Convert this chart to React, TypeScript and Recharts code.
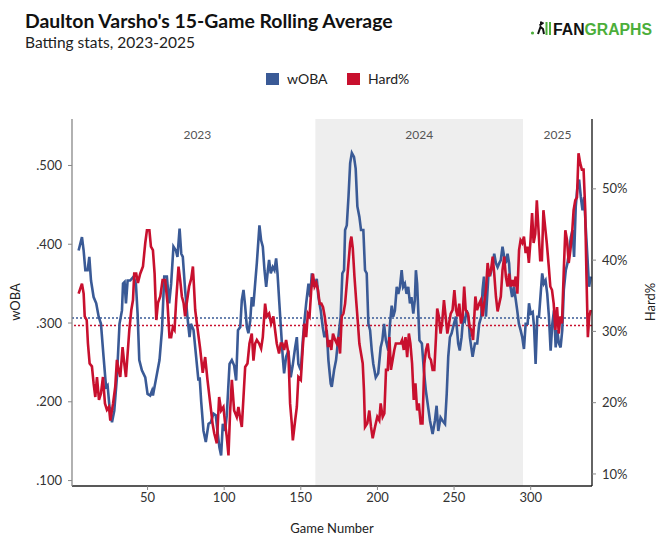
import React from 'react';
import {
  LineChart,
  Line,
  XAxis,
  YAxis,
  ReferenceArea,
  ReferenceLine,
} from 'recharts';

const BLUE = '#3a5a96';
const RED = '#c8102e';

const wobaGame = [
  5, 7.2, 8.3, 9.4, 10.9, 12, 13.1, 14.8, 16.5, 18.1, 19.6, 21.3, 22.9, 23.9, 25.2, 26.8, 28.3, 30, 31.7, 33.3,
  34, 35, 35.9, 37, 38.7, 40.9, 42.4, 43.5, 44.6, 46.3, 48.5, 50, 51.7, 52.9, 53.5, 55.7, 57.8, 59.4, 60.9, 62.6,
  64.1, 65.4, 66.9, 68.5, 69.5, 70.9, 72, 73, 74.5, 76, 77.4, 78.3, 80, 81.7, 83.2, 84, 85, 86.5, 88, 89.8,
  91.3, 93, 94.5, 95.6, 96.9, 98, 99.1, 100.6, 101.7, 103.5, 105, 106.5, 107.8, 109, 110.5, 111.5, 112.6, 113.7, 114.8, 115.8,
  117, 118, 119, 120.2, 121.3, 123, 124.1, 125.2, 126.3, 127.4, 128.5, 129.3, 130.4, 131.7, 132.8, 133.9, 134.8, 136, 137.1, 138.2,
  139.1, 140.4, 141.9, 143.4, 144.7, 146.3, 147.4, 148.4, 150, 151.3, 152.2, 153.5, 155, 156.1, 157.2, 158.6, 160.4, 161.5, 163, 164.3,
  165.4, 166.9, 168, 169.5, 170.2, 171.7, 173, 174.5, 176, 177.1, 178.2, 178.9, 180, 181.1, 182.2, 183.3, 184.7, 185.8, 186.9, 188.2,
  189.3, 190.8, 191.9, 193, 194.1, 195.2, 196.3, 197.3, 198.9, 200.5, 202.1, 203.2, 204.3, 205.5, 207.1, 208.2, 209.3, 210.3, 211.4, 212.6,
  213.6, 214.7, 215.8, 216.8, 217.9, 219, 220.1, 221.2, 222.2, 223.4, 224.4, 225.1, 225.9, 226.8, 227.4, 229, 230.3, 231.6, 233.1, 234.3,
  236, 237.5, 238.6, 239.7, 241.2, 242.5, 244.1, 245.2, 246.2, 247.3, 248.4, 249.9, 251.2, 252.7, 253.7, 254.9, 256, 257.1, 258.2, 259.3,
  260.3, 262.1, 263.6, 265.1, 266.4, 267.7, 268.6, 269.5, 270.8, 271.7, 272.6, 273.9, 275.4, 276.2, 277.3, 278.4, 279.5, 280.5, 281.6, 282.7,
  283.8, 284.9, 285.9, 286.8, 287.9, 289, 290, 291.2, 292.3, 293.4, 294.5, 295.6, 296.7, 298, 298.9, 300, 301.3, 302.2, 303.2, 304.3,
  305.4, 306.5, 307.5, 308.6, 309.7, 310.8, 311.9, 313, 314.1, 315.2, 316.3, 317.3, 318.4, 319.5, 320.6, 321.6, 322.9, 324, 325.1, 326.2,
  327.3, 328.3, 329.4, 330.5, 331.6, 332.7, 333.8, 334.9, 335.9, 337, 338.1, 339.2,
];

const wobaValue = [
  0.392, 0.409, 0.392, 0.367, 0.367, 0.384, 0.354, 0.333, 0.325, 0.308, 0.299, 0.257, 0.219, 0.221, 0.193, 0.174, 0.189, 0.231, 0.299, 0.316,
  0.35, 0.352, 0.325, 0.354, 0.354, 0.359, 0.35, 0.312, 0.253, 0.24, 0.231, 0.21, 0.208, 0.214, 0.208, 0.231, 0.253, 0.291, 0.359, 0.359,
  0.325, 0.35, 0.397, 0.392, 0.384, 0.42, 0.388, 0.384, 0.342, 0.308, 0.282, 0.299, 0.291, 0.257, 0.227, 0.231, 0.2, 0.163, 0.149, 0.172,
  0.174, 0.185, 0.183, 0.163, 0.142, 0.132, 0.172, 0.163, 0.183, 0.248, 0.253, 0.246, 0.227, 0.291, 0.295, 0.329, 0.342, 0.321, 0.295, 0.287,
  0.303, 0.333, 0.321, 0.35, 0.376, 0.424, 0.405, 0.397, 0.367, 0.346, 0.367, 0.38, 0.363, 0.371, 0.367, 0.382, 0.363, 0.325, 0.291, 0.257,
  0.236, 0.257, 0.265, 0.231, 0.246, 0.269, 0.282, 0.248, 0.24, 0.278, 0.299, 0.325, 0.35, 0.333, 0.363, 0.346, 0.356, 0.333, 0.316, 0.295,
  0.282, 0.291, 0.253, 0.223, 0.219, 0.24, 0.253, 0.282, 0.308, 0.363, 0.367, 0.418, 0.424, 0.46, 0.503, 0.516, 0.511, 0.496, 0.448, 0.435,
  0.418, 0.418, 0.367, 0.363, 0.299, 0.291, 0.265, 0.248, 0.231, 0.236, 0.269, 0.278, 0.299, 0.278, 0.265, 0.299, 0.322, 0.308, 0.316, 0.346,
  0.337, 0.346, 0.367, 0.346, 0.35, 0.337, 0.346, 0.325, 0.333, 0.312, 0.329, 0.367, 0.35, 0.308, 0.278, 0.274, 0.24, 0.214, 0.193, 0.176,
  0.159, 0.176, 0.195, 0.163, 0.18, 0.176, 0.172, 0.21, 0.257, 0.282, 0.287, 0.299, 0.308, 0.274, 0.265, 0.282, 0.308, 0.303, 0.316, 0.308,
  0.282, 0.257, 0.274, 0.274, 0.299, 0.308, 0.342, 0.359, 0.308, 0.337, 0.367, 0.363, 0.376, 0.388, 0.376, 0.371, 0.376, 0.38, 0.397, 0.384,
  0.376, 0.388, 0.376, 0.346, 0.333, 0.346, 0.333, 0.316, 0.299, 0.291, 0.282, 0.267, 0.299, 0.299, 0.325, 0.312, 0.314, 0.295, 0.248, 0.308,
  0.308, 0.337, 0.363, 0.35, 0.354, 0.337, 0.308, 0.265, 0.299, 0.316, 0.269, 0.291, 0.274, 0.269, 0.291, 0.342, 0.367, 0.376, 0.392, 0.409,
  0.418, 0.384, 0.448, 0.473, 0.482, 0.46, 0.443, 0.46, 0.422, 0.384, 0.346, 0.359,
];

const hardGame = [
  5, 7.2, 8.3, 9, 10.3, 11.1, 12.2, 13.7, 14.8, 15.9, 17, 18.3, 19.6, 20.9, 22.2, 23.5, 24.8, 25.7, 27.5, 28.9,
  30, 31.1, 32.2, 33.7, 34.8, 35.9, 37, 38.1, 39.4, 40.5, 41.3, 42.6, 43.7, 45.2, 47, 48.5, 49.6, 51.2, 52.2, 53.5,
  54.6, 55.7, 56.8, 58.3, 59.8, 61.5, 63, 64.3, 65.4, 66.5, 67.6, 68.7, 70.2, 71.3, 72.4, 73.5, 74.5, 75.6, 77.1, 78.5,
  79.6, 81.1, 82.2, 84.3, 86, 87.6, 89.1, 90.9, 92.4, 93.5, 95.2, 96.7, 98, 99.5, 100.6, 101.7, 102.8, 103.9, 105, 106.5,
  108.2, 109.3, 110.3, 111.5, 112.6, 113.7, 115.2, 116.5, 118, 119.1, 120.2, 121.3, 122.8, 124.1, 125.2, 126.7, 127.8, 129.3, 130.6, 132.1,
  133.2, 134.3, 135.8, 136.9, 138, 139.1, 140.4, 141.9, 143, 144.1, 144.8, 146.3, 147.4, 148.4, 150, 151.3, 152.4, 153.5, 154.6, 155.7,
  156.8, 157.9, 159, 160.1, 161.2, 162.3, 163.4, 164.5, 165.6, 166.7, 167.8, 168.8, 169.9, 171, 172.4, 173.5, 174.5, 175.6, 176.7, 177.8,
  178.9, 180, 181.1, 182.2, 183, 183.9, 185, 186.1, 187.1, 188.2, 189.3, 190.4, 191.2, 191.9, 193.4, 194.7, 195.8, 196.9, 198.4, 199.9,
  201.2, 202.1, 203.4, 204.5, 205.6, 206.7, 207.8, 208.8, 209.9, 211, 212, 213.6, 215.1, 216.1, 217.2, 218.3, 219.4, 220.5, 221.5, 222.6,
  223.7, 224.8, 225.9, 227, 228.2, 229.4, 230.6, 231.7, 232.8, 233.8, 234.9, 236, 237.1, 238.2, 239, 240.1, 241.2, 242.3, 243.4, 244.5,
  245.6, 246.7, 247.8, 249, 250.2, 251.3, 252.3, 253.4, 254.5, 255.6, 256.6, 257.6, 259.1, 260.2, 261.3, 262.4, 263.9, 265, 266.4, 267.5,
  268.6, 269.6, 270.8, 271.9, 273, 274.1, 275.2, 276.2, 277.3, 278.4, 279.5, 280.5, 281.6, 282.7, 283.8, 284.9, 285.9, 287, 288.1, 289.1,
  290.2, 291.3, 292.4, 293.4, 294.5, 295.6, 296.7, 297.8, 298.8, 299.9, 300.9, 301.9, 303, 304, 305.1, 306.2, 307.3, 308.3, 309.4, 310.5,
  311.8, 312.8, 313.9, 315, 316.1, 317.2, 318.3, 319.4, 320.4, 321.6, 322.6, 323.7, 324.8, 325.9, 327, 328, 329.1, 330.2, 331.2, 332.3,
  333.4, 334.5, 335.5, 336.4, 337.3, 338.2, 339.2,
];

const hardValue = [
  35.3, 36.7, 35.3, 32.1, 31.6, 28.3, 25.5, 25.1, 22.7, 20.8, 23.6, 20.4, 21.3, 23.6, 19.9, 19.0, 19.4, 17.5, 19.9, 22.2,
  26.0, 24.6, 23.6, 27.8, 25.5, 23.6, 26.9, 30.2, 33.0, 34.4, 38.1, 38.1, 36.8, 38.1, 39.1, 42.4, 44.2, 44.2, 41.9, 41.4,
  38.1, 31.6, 34.0, 34.9, 37.2, 37.2, 34.0, 29.2, 29.2, 30.6, 30.2, 34.4, 39.1, 37.2, 34.9, 34.0, 32.1, 34.0, 36.3, 37.4,
  39.1, 33.0, 31.1, 27.6, 24.2, 26.4, 23.2, 19.9, 17.1, 15.7, 14.3, 20.8, 18.9, 19.4, 17.1, 15.2, 12.6, 18.9, 23.2, 18.9,
  18.0, 19.4, 18.0, 16.6, 20.8, 25.0, 25.5, 28.3, 29.7, 25.9, 28.3, 28.8, 28.3, 27.6, 29.2, 33.9, 32.1, 32.5, 31.1, 32.1,
  30.2, 28.3, 26.9, 28.3, 28.3, 27.4, 28.8, 26.9, 19.9, 17.1, 14.7, 17.5, 19.4, 23.6, 23.2, 27.8, 31.1, 29.2, 32.5, 32.1,
  35.8, 38.1, 36.3, 36.8, 35.8, 33.9, 33.9, 33.4, 32.1, 30.2, 27.8, 28.8, 27.4, 29.7, 28.8, 28.3, 29.2, 26.9, 32.1, 32.5,
  33.9, 36.7, 39.6, 42.4, 43.3, 41.7, 37.7, 34.4, 31.6, 28.3, 26.9, 25.5, 21.8, 16.6, 17.1, 18.9, 16.6, 15.0, 16.6, 18.0,
  17.5, 19.9, 18.0, 18.5, 24.6, 24.6, 29.2, 24.6, 26.0, 27.4, 28.3, 28.3, 28.3, 28.8, 27.4, 29.2, 26.4, 29.7, 28.3, 25.5,
  20.4, 22.7, 18.9, 19.9, 17.1, 17.1, 25.5, 27.4, 28.3, 26.4, 26.0, 24.6, 24.6, 29.2, 33.2, 32.1, 29.7, 31.4, 34.4, 32.1,
  29.7, 31.1, 32.5, 33.0, 35.8, 33.0, 32.1, 33.9, 31.1, 32.1, 36.3, 33.0, 32.5, 30.6, 30.2, 28.8, 34.9, 33.0, 33.9, 34.4,
  32.1, 33.9, 35.8, 39.6, 37.7, 38.6, 40.5, 38.1, 34.9, 32.8, 33.9, 34.9, 38.6, 40.5, 37.7, 36.3, 38.1, 36.3, 37.2, 36.3,
  37.7, 35.3, 41.4, 42.8, 42.4, 43.3, 41.0, 41.9, 39.6, 42.8, 46.6, 42.4, 43.7, 48.4, 44.2, 40.0, 40.0, 47.0, 44.7, 42.4,
  39.1, 36.3, 35.8, 33.9, 30.2, 33.4, 29.7, 32.1, 31.1, 38.6, 44.2, 42.8, 39.6, 41.4, 43.7, 47.0, 48.4, 48.8, 55.0, 53.6,
  52.7, 52.7, 47.5, 37.7, 29.2, 32.1, 33.0,
];

const gameTicks = [50, 100, 150, 200, 250, 300];
const wobaTicks = [0.1, 0.2, 0.3, 0.4, 0.5];
const hardTicks = [10, 20, 30, 40, 50];
const seasons = [
  { label: '2023', start: 5.5, end: 159.5, shaded: false },
  { label: '2024', start: 159.5, end: 295, shaded: true },
  { label: '2025', start: 295, end: 340, shaded: false },
];
const wobaAverage = 0.3064;
const hardAverage = 30.84;

const wobaData = wobaGame.map((g, i) => ({ game: g, woba: wobaValue[i] }));
const hardData = hardGame.map((g, i) => ({ game: g, hard: hardValue[i] }));

const FONT = 'Lato, "Noto Sans", sans-serif';

export default function App() {
  return (
    <div
      style={{
        position: 'absolute',
        top: 0,
        left: 0,
        width: 665,
        height: 542,
        background: '#fff',
        fontFamily: FONT,
      }}
    >
      <LineChart
        width={665}
        height={542}
        margin={{ top: 119, right: 23, bottom: 26, left: 22 }}
        style={{ fontFamily: FONT }}
      >
        <XAxis
          type="number"
          dataKey="game"
          domain={[0.7, 340]}
          ticks={gameTicks}
          allowDataOverflow
          height={30}
          tickSize={4}
          tickMargin={3}
          tick={{ fill: '#333', fontSize: 13 }}
          axisLine={{ stroke: '#222', strokeWidth: 1.3 }}
          tickLine={{ stroke: '#888' }}
        />
        <YAxis
          yAxisId="w"
          orientation="left"
          width={50}
          domain={[0.0931, 0.559]}
          ticks={wobaTicks}
          allowDataOverflow
          tickFormatter={(v: number) => v.toFixed(3).replace(/^0/, '')}
          tickSize={4}
          tickMargin={6}
          tick={{ fill: '#333', fontSize: 13 }}
          axisLine={{ stroke: '#888', strokeWidth: 1.3 }}
          tickLine={{ stroke: '#888' }}
        />
        <YAxis
          yAxisId="h"
          orientation="right"
          width={50}
          domain={[8.31, 59.8]}
          ticks={hardTicks}
          allowDataOverflow
          tickFormatter={(v: number) => `${v}%`}
          tickSize={4}
          tickMargin={6}
          tick={{ fill: '#333', fontSize: 13 }}
          axisLine={{ stroke: '#111', strokeWidth: 1.3 }}
          tickLine={{ stroke: '#888' }}
        />
        {seasons.map((s) => (
          <ReferenceArea
            key={s.label}
            yAxisId="w"
            x1={s.start}
            x2={s.end}
            fill="#eeeeee"
            fillOpacity={s.shaded ? 1 : 0}
            stroke="none"
            label={{ value: s.label, position: 'insideTop', offset: 11, fill: '#555', fontSize: 12 }}
          />
        ))}
        <ReferenceLine yAxisId="w" y={wobaAverage} stroke={BLUE} strokeDasharray="2 2" strokeWidth={1.5} />
        <ReferenceLine yAxisId="h" y={hardAverage} stroke={RED} strokeDasharray="2 2" strokeWidth={1.5} />
        <Line
          data={wobaData}
          yAxisId="w"
          dataKey="woba"
          type="linear"
          stroke={BLUE}
          strokeWidth={2.6}
          dot={false}
          isAnimationActive={false}
        />
        <Line
          data={hardData}
          yAxisId="h"
          dataKey="hard"
          type="linear"
          stroke={RED}
          strokeWidth={2.6}
          dot={false}
          isAnimationActive={false}
        />
      </LineChart>
      <svg
        width={665}
        height={542}
        style={{ position: 'absolute', top: 0, left: 0, pointerEvents: 'none', fontFamily: FONT }}
      >
        <text x={25} y={28} fontSize={19.4} fontWeight={700} fill="#111">
          Daulton Varsho's 15-Game Rolling Average
        </text>
        <text x={25} y={48} fontSize={15.5} fill="#222">
          Batting stats, 2023-2025
        </text>
        <rect x={266} y={73} width={13} height={12} fill={BLUE} />
        <text x={287} y={84} fontSize={14} fill="#222">
          wOBA
        </text>
        <rect x={347} y={73} width={13} height={12} fill={RED} />
        <text x={368} y={84} fontSize={14} fill="#222">
          Hard%
        </text>
        <g>
          <circle cx={532.5} cy={33} r={1.6} fill="#4cae3a" />
          <path d="M538 34 L540.5 27 L543 29 L544 34 M539.5 25.5 L543.5 22.5 M541 24.5 L541 21.5" stroke="#111" strokeWidth={2} fill="none" />
          <rect x={545.5} y={22} width={2} height={13} fill="#4cae3a" />
          <rect x={549} y={22} width={2} height={13} fill="#4cae3a" />
          <text x={553} y={34.5} fontSize={16} fontWeight={700} fontFamily='"Liberation Sans", Arial, sans-serif' textLength={99} lengthAdjust="spacingAndGlyphs">
            <tspan fill="#111">FAN</tspan>
            <tspan fill="#4cae3a">GRAPHS</tspan>
          </text>
        </g>
        <text x={17} y={302} fontSize={13} fill="#222" textAnchor="middle" dominantBaseline="middle" transform="rotate(-90 17 302)">
          wOBA
        </text>
        <text x={652} y={302} fontSize={13} fill="#222" textAnchor="middle" dominantBaseline="middle" transform="rotate(-90 652 302)">
          Hard%
        </text>
        <text x={332} y={533} fontSize={13} fill="#222" textAnchor="middle">
          Game Number
        </text>
      </svg>
    </div>
  );
}
